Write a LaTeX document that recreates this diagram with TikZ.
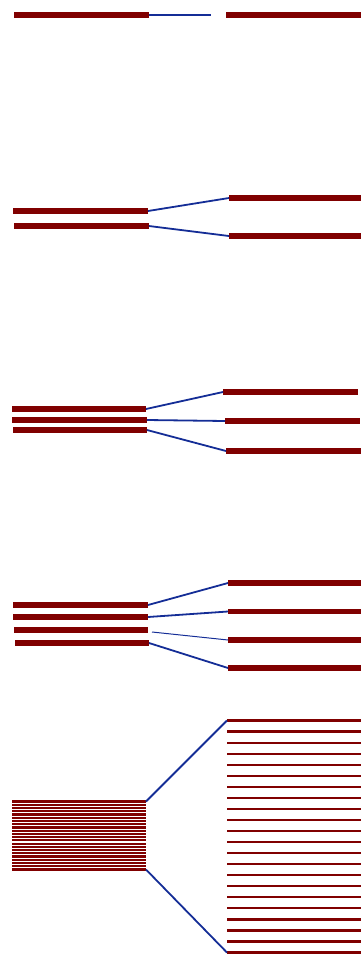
\documentclass[tikz,border=0pt]{standalone}
\definecolor{barred}{RGB}{128,0,0}
\definecolor{linkblue}{RGB}{20,45,150}
\begin{document}
\begin{tikzpicture}[x=1pt,y=-1pt,
  bar/.style={rectangle,fill=barred,inner sep=0pt,outer sep=0pt,minimum height=5.5pt,anchor=west},
  thinbar/.style={rectangle,fill=barred,inner sep=0pt,outer sep=0pt,minimum height=2.2pt,anchor=west},
  link/.style={draw=linkblue,line width=1.8pt},
  thinlink/.style={draw=linkblue,line width=1pt}]
\useasboundingbox (0,0) rectangle (361,954);
% panel 1
\node[bar,minimum width=135pt] (a1) at (14,15) {};
\coordinate (a1e) at (211,15);
\node[bar,minimum width=135pt] (b1) at (226,15) {};
\draw[link] (a1.east) -- (a1e);
% panel 2
\node[bar,minimum width=135pt] (pL1) at (13,211) {};
\node[bar,minimum width=135pt] (pL2) at (14,226) {};
\node[bar,minimum width=132pt] (pR1) at (229,198) {};
\node[bar,minimum width=132pt] (pR2) at (229,236) {};
\draw[link] (pL1.east) -- (pR1.west);
\draw[link] (pL2.east) -- (pR2.west);
% panel 3
\node[bar,minimum width=134pt] (qL1) at (12,409) {};
\node[bar,minimum width=135pt] (qL2) at (12,420) {};
\node[bar,minimum width=134pt] (qL3) at (13,430) {};
\node[bar,minimum width=135pt] (qR1) at (223,392) {};
\node[bar,minimum width=135pt] (qR2) at (225,421) {};
\node[bar,minimum width=135pt] (qR3) at (226,451) {};
\draw[link] (qL1.east) -- (qR1.west);
\draw[link] (qL2.east) -- (qR2.west);
\draw[link] (qL3.east) -- (qR3.west);
% panel 4
\node[bar,minimum width=135pt] (rL1) at (13,605) {};
\node[bar,minimum width=135pt] (rL2) at (13,617) {};
\node[bar,minimum width=134pt] (rL3) at (14,630) {};
\node[bar,minimum width=134pt] (rL4) at (15,643) {};
\node[bar,minimum width=133pt] (rR1) at (228,583) {};
\node[bar,minimum width=133pt] (rR2) at (228,611.5) {};
\node[bar,minimum width=133pt] (rR3) at (228,640) {};
\node[bar,minimum width=133pt] (rR4) at (228,668) {};
\coordinate (rL3e) at (152,632);
\draw[link] (rL1.east) -- (rR1.west);
\draw[link] (rL2.east) -- (rR2.west);
\draw[thinlink] (rL3e) -- (rR3.west);
\draw[link] (rL4.east) -- (rR4.west);
% panel 5
\foreach \i in {1,...,22}{
  \node[thinbar,minimum width=134pt] (s\i) at (12,{801.5+(\i-1)*3.24}) {};
  \node[thinbar,minimum width=134pt] (t\i) at (227,{720.5+(\i-1)*11.05}) {};
}
\draw[link] (s1.east) -- (t1.west);
\draw[link] (s22.east) -- (t22.west);
\end{tikzpicture}
\end{document}
